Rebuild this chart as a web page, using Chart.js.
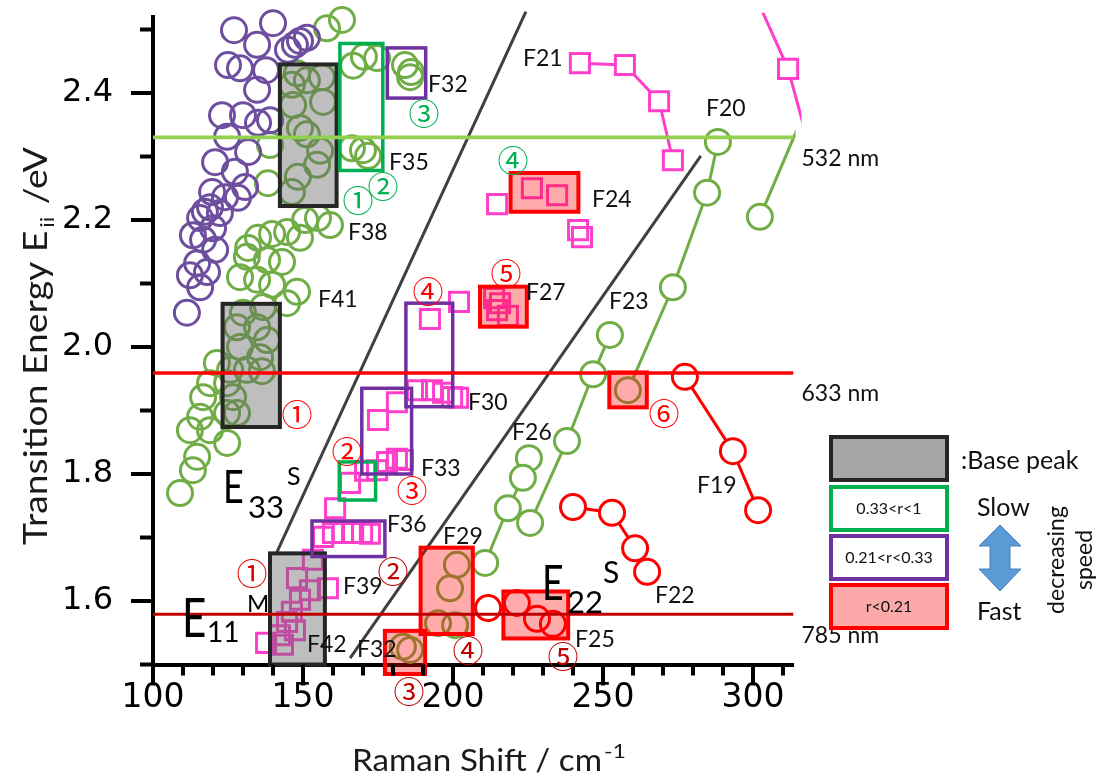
<!DOCTYPE html>
<html lang="en">
<head>
<meta charset="utf-8">
<title>Transition energy vs Raman shift</title>
<script src="https://cdn.jsdelivr.net/npm/chart.js@4.4.1/dist/chart.umd.min.js"></script>
<style>
  html, body { margin: 0; padding: 0; background: #ffffff; }
  #plot { display: block; }
</style>
</head>
<body>
<canvas id="plot" width="1099" height="780"></canvas>
<script>
// ---------- axes ----------
const shiftRange = [100, 313.5];          // Raman shift, cm^-1
const energyRange = [1.5, 2.52];          // transition energy, eV
const shiftTickLabels = [100, 150, 200, 250, 300];
const energyTickLabels = [1.6, 1.8, 2.0, 2.2, 2.4];
const shiftMinorStep = 10;
const energyMinorStep = 0.1;

// ---------- excitation lasers ----------
const laserNames = ['532 nm', '633 nm', '785 nm'];
const laserEnergies = [2.33, 1.959, 1.579];
const laserColors = ['#92D050', '#FF0000', '#C00000'];

// ---------- boundary guides between families ----------
const guideUpper = [[141.3, 1.677], [224.3, 2.528]];
const guideLower = [[165.7, 1.510], [282.6, 2.301]];

// ---------- Kataura points, [shift, energy] ----------
const purpleCircles = [
  [127.0,2.499],[140.0,2.510],[134.7,2.476],[145.0,2.468],[147.3,2.476],[149.0,2.482],[151.3,2.487],
  [125.0,2.444],[129.0,2.439],[137.7,2.436],[134.7,2.405],[123.0,2.365],[130.0,2.365],[135.0,2.353],
  [139.0,2.357],[124.7,2.331],[131.7,2.307],[120.7,2.291],[127.3,2.276],[130.7,2.252],[119.7,2.244],
  [124.0,2.236],[128.3,2.235],[117.3,2.213],[119.0,2.220],[122.3,2.211],[115.7,2.203],[120.0,2.187],
  [113.3,2.176],[116.7,2.169],[120.7,2.153],[114.7,2.132],[118.0,2.118],[112.3,2.113],[115.7,2.094],
  [111.3,2.054]
];
const f38GreenCircles = [
  [163.0,2.515],[158.0,2.502],[148.0,2.431],[151.3,2.420],[156.3,2.425],[146.3,2.413],[156.7,2.386],
  [146.7,2.381],[149.0,2.345],[151.3,2.335],[155.7,2.309],[154.7,2.287],[148.3,2.268],[146.3,2.244],
  [139.0,2.318],[138.3,2.258],[159.0,2.192],[155.0,2.203],[150.7,2.200],[149.0,2.172],[144.7,2.181],
  [139.7,2.178],[135.0,2.172],[131.7,2.156]
];
const f35GreenCircles = [
  [166.7,2.443],[170.3,2.457],[174.7,2.455],[166.3,2.313],[170.0,2.310],[171.7,2.301]
];
const f41GreenCircles = [
  [131.3,2.142],[138.0,2.137],[143.0,2.134],[129.0,2.110],[134.7,2.106],[139.7,2.098],[148.0,2.087],
  [144.7,2.069],[136.7,2.063],[130.0,2.054],[128.0,2.031],[134.7,2.031],[138.0,2.011],[129.0,2.000],
  [135.7,1.984],[121.3,1.975],[125.7,1.964],[131.3,1.964],[136.3,1.962],[119.0,1.943],[124.7,1.943],
  [126.7,1.921],[116.7,1.921],[115.7,1.890],[124.7,1.896],[128.0,1.896],[119.0,1.869],[112.3,1.869],
  [114.7,1.827],[124.7,1.849],[113.3,1.806],[109.0,1.770]
];
const f32GreenCircles = [[184.0,2.444],[186.0,2.433],[185.7,2.425]];
const f32LowGreenCircles = [[183.3,1.528],[185.7,1.523]];
const f29GreenCircles = [[201.3,1.657],[199.0,1.620],[195.0,1.565],[200.7,1.562]];
const f20Circles = [[288.3,2.323],[284.7,2.243],[273.3,2.094],[258.3,1.932]];
const edgeGreenCircles = [[302.3,2.205],[319.0,2.390]];
const f23Circles = [[252.3,2.019],[246.7,1.957],[238.0,1.852],[225.7,1.723]];
const f26Circles = [[225.3,1.825],[223.3,1.794],[218.3,1.746],[210.7,1.660]];
const f19Circles = [[277.3,1.953],[293.3,1.836],[301.7,1.743]];
const f22Circles = [[240.0,1.748],[253.0,1.739],[260.7,1.683],[264.7,1.646]];
const f25Circles = [[211.7,1.589],[221.3,1.597],[228.0,1.572],[233.3,1.564]];

const f21Squares = [[242.3,2.447],[257.3,2.444],[268.7,2.387],[273.3,2.294]];
const edgeSquares = [[300.7,2.554],[311.7,2.438],[320.7,2.282]];
const f24Squares = [[214.7,2.225],[226.3,2.250],[234.7,2.239],[241.7,2.184],[243.0,2.173]];
const f27Squares = [[202.0,2.071],[213.7,2.077],[215.7,2.069],[214.7,2.058],[218.3,2.049]];
const f30Squares = [[192.3,2.044],[188.0,1.932],[193.0,1.932],[196.7,1.928],[199.7,1.921],[201.7,1.920]];
const f33Squares = [[175.0,1.885],[181.3,1.913],[165.7,1.786],[170.7,1.805],[174.7,1.806],[178.0,1.819],[181.3,1.824],[183.3,1.822]];
const f36Squares = [[160.7,1.746],[156.7,1.701],[160.0,1.707],[163.3,1.707],[166.7,1.707],[169.7,1.707],[172.3,1.706]];
const f39Squares = [[153.3,1.665],[148.0,1.636],[152.3,1.617],[158.3,1.620],[149.0,1.602],[146.3,1.583],
  [144.7,1.567],[142.3,1.546],[147.3,1.554],[137.7,1.534],[143.3,1.531]];

// ---------- highlighted peaks, [shiftMin, shiftMax, energyMin, energyMax] ----------
const basePeakBoxes = [[142.3,161.2,2.222,2.445],[123.2,142.3,1.874,2.068],[139.0,157.3,1.500,1.675]];
const slowBoxes = [[162.3,176.6,2.278,2.478],[162.1,174.2,1.759,1.819]];
const mediumBoxes = [[178.1,190.9,2.392,2.471],[184.3,199.9,1.906,2.069],[169.6,186.2,1.800,1.935],[153.0,177.3,1.670,1.726]];
const fastBoxes = [[219.2,241.8,2.213,2.274],[209.0,224.6,2.032,2.095],[189.2,206.6,1.548,1.684],
  [177.3,190.7,1.485,1.553],[216.8,238.4,1.541,1.615],[252.1,264.6,1.905,1.960]];

// ---------- family labels, anchored at [shift, energy] ----------
const familyLabels = [
  ['F32',191.7,2.413],['F35',178.7,2.291],['F38',165.0,2.180],['F41',155.0,2.074],['F24',246.3,2.232],
  ['F21',223.3,2.454],['F20',284.3,2.376],['F27',224.3,2.085],['F23',252.0,2.072],['F30',205.0,1.912],
  ['F26',219.7,1.866],['F19',281.3,1.781],['F33',189.3,1.808],['F36',178.0,1.721],['F39',163.3,1.622],
  ['F29',196.7,1.701],['F22',267.3,1.609],['F25',240.7,1.539],['F32',168.0,1.523],['F42',151.3,1.532]
];
const rankLabels = [
  ['③',190.3,2.369,'#00B050'],['②',176.7,2.255,'#00B050'],['①',168.3,2.232,'#00B050'],['④',220.0,2.296,'#00B050'],
  ['①',148.0,1.896,'#FF0000'],['⑤',217.7,2.117,'#FF0000'],['④',191.7,2.090,'#FF0000'],['⑥',270.3,1.898,'#FF0000'],
  ['③',186.3,1.776,'#FF0000'],['②',164.7,1.838,'#FF0000'],
  ['①',133.0,1.646,'#E00000'],['②',180.0,1.649,'#C00000'],['⑤',236.7,1.515,'#C00000'],
  ['④',205.0,1.524,'#C00000'],['③',185.3,1.460,'#C00000']
];
const bandLabels = [
  { sub: '11', sup: 'M', x: 109.7, y: 1.543 },
  { sub: '33', sup: 'S', x: 123.3, y: 1.754 },
  { sub: '22', sup: 'S', x: 229.7, y: 1.602 }
];
const bandStyles = [
  { size: 54, subSize: 28, subDx: 25, subDy: 5,  supSize: 24, supDx: 65, supDy: -25 },
  { size: 46, subSize: 31, subDx: 25, subDy: 15, supSize: 25, supDx: 64, supDy: -18 },
  { size: 48, subSize: 31, subDx: 25, subDy: 13, supSize: 30, supDx: 61, supDy: -17 }
];

// ---------- colours ----------
const C = {
  green: '#70AD47', purple: '#6E4E9E', red: '#FF0000', pink: '#FF3FCC',
  boxGreen: '#00B050', boxPurple: '#7030A0', boxRed: '#FF0000', boxGray: '#262626'
};
const SANS = 'Lato, "Open Sans", sans-serif';
const CIRC = '"Noto Sans CJK JP", "DejaVu Sans", sans-serif';

const toXY = arr => arr.map(([x, y]) => ({ x, y }));

// markers may spill a little past the frame, as in the printed figure
const looseClip = { left: 20, top: 20, right: 0, bottom: 20 };

function marks(data, color, style, opts) {
  return Object.assign({
    data: toXY(data),
    pointStyle: style,
    pointRadius: style === 'circle' ? 12.5 : 13.5,
    pointHoverRadius: style === 'circle' ? 12.5 : 13.5,
    pointBorderWidth: 3,
    pointBorderColor: color,
    pointBackgroundColor: 'rgba(0,0,0,0)',
    borderColor: color,
    borderWidth: 3,
    showLine: false,
    clip: looseClip,
    order: 2
  }, opts || {});
}
const chain = { showLine: true, pointBackgroundColor: '#ffffff' };

const datasets = [
  Object.assign(marks(guideUpper, '#404040', 'circle'), { showLine: true, pointRadius: 0, clip: false, order: 3 }),
  Object.assign(marks(guideLower, '#404040', 'circle'), { showLine: true, pointRadius: 0, clip: false, order: 3 }),
  marks(purpleCircles, C.purple, 'circle'),
  marks(f38GreenCircles, C.green, 'circle'),
  marks(f35GreenCircles, C.green, 'circle'),
  marks(f41GreenCircles, C.green, 'circle'),
  marks(f32GreenCircles, C.green, 'circle'),
  marks(f32LowGreenCircles, C.green, 'circle'),
  marks(f29GreenCircles, C.green, 'circle'),
  marks(f20Circles, C.green, 'circle', chain),
  marks(edgeGreenCircles, C.green, 'circle', Object.assign({}, chain, { clip: { left: 0, top: 0, right: 2, bottom: 0 } })),
  marks(f23Circles, C.green, 'circle', chain),
  marks(f26Circles, C.green, 'circle', chain),
  marks(f19Circles, C.red, 'circle', chain),
  marks(f22Circles, C.red, 'circle', chain),
  marks(f25Circles, C.red, 'circle'),
  marks(f21Squares, C.pink, 'rect', chain),
  marks(edgeSquares, C.pink, 'rect', Object.assign({}, chain, { clip: { left: 0, top: 4, right: 8, bottom: 0 } })),
  marks(f24Squares, C.pink, 'rect'),
  marks(f27Squares, C.pink, 'rect'),
  marks(f30Squares, C.pink, 'rect'),
  marks(f33Squares, C.pink, 'rect'),
  marks(f36Squares, C.pink, 'rect'),
  marks(f39Squares, C.pink, 'rect')
];
const laserWidths = [3.8, 3.5, 3];
laserEnergies.forEach((e, i) => {
  datasets.push({
    data: [{ x: shiftRange[0], y: e }, { x: shiftRange[1], y: e }],
    borderColor: laserColors[i], borderWidth: laserWidths[i],
    pointRadius: 0, showLine: true, order: 0, laser: true
  });
});

// ---------- drawing helpers ----------
function drawBoxes(chart) {
  const ctx = chart.ctx, X = v => chart.scales.x.getPixelForValue(v), Y = v => chart.scales.y.getPixelForValue(v);
  const box = (b, stroke, fill, lw) => {
    const x1 = X(b[0]), x2 = X(b[1]), y1 = Y(b[3]), y2 = Y(b[2]);
    if (fill) { ctx.fillStyle = fill; ctx.fillRect(x1, y1, x2 - x1, y2 - y1); }
    ctx.lineWidth = lw; ctx.strokeStyle = stroke; ctx.strokeRect(x1, y1, x2 - x1, y2 - y1);
  };
  ctx.save();
  basePeakBoxes.forEach(b => box(b, C.boxGray, 'rgba(100,100,100,0.42)', 4));
  slowBoxes.forEach(b => box(b, C.boxGreen, null, 3.5));
  mediumBoxes.forEach(b => box(b, C.boxPurple, null, 3.5));
  fastBoxes.forEach(b => box(b, C.boxRed, 'rgba(255,0,0,0.33)', 4));
  ctx.restore();
}

function drawTicks(chart) {
  const ctx = chart.ctx, xs = chart.scales.x, ys = chart.scales.y, a = chart.chartArea;
  ctx.save();
  ctx.strokeStyle = '#000'; ctx.lineWidth = 4; ctx.lineCap = 'butt';
  for (let v = shiftRange[0]; v <= shiftRange[1] + 1e-6; v += shiftMinorStep) {
    const x = xs.getPixelForValue(v), len = shiftTickLabels.includes(v) ? 21 : 11;
    ctx.beginPath(); ctx.moveTo(x, a.bottom); ctx.lineTo(x, a.bottom + len); ctx.stroke();
  }
  for (let k = 0; ; k++) {
    const v = +(energyRange[0] + k * energyMinorStep).toFixed(2);
    if (v > energyRange[1] + 1e-6) break;
    const y = ys.getPixelForValue(v), len = energyTickLabels.some(t => Math.abs(t - v) < 1e-6) ? 22 : 13;
    ctx.beginPath(); ctx.moveTo(a.left - len, y); ctx.lineTo(a.left, y); ctx.stroke();
  }
  ctx.restore();
}

function squeezeText(ctx, str, x, y, targetW) {
  const w = ctx.measureText(str).width;
  const s = targetW ? targetW / w : 1;
  ctx.save(); ctx.translate(x, y); ctx.scale(s, 1); ctx.fillText(str, 0, 0); ctx.restore();
  return w * s;
}

function drawLabels(chart) {
  const ctx = chart.ctx, X = v => chart.scales.x.getPixelForValue(v), Y = v => chart.scales.y.getPixelForValue(v);
  const a = chart.chartArea;
  ctx.save();
  // family names
  ctx.fillStyle = '#111'; ctx.font = '23px ' + SANS; ctx.textAlign = 'left'; ctx.textBaseline = 'middle';
  familyLabels.forEach(([t, x, y]) => ctx.fillText(t, X(x), Y(y)));
  // rank numbers
  ctx.font = '31px ' + CIRC; ctx.textAlign = 'center';
  rankLabels.forEach(([t, x, y, c]) => { ctx.fillStyle = c; ctx.fillText(t, X(x), Y(y) + 1); });
  // band labels E_ii^(S/M)
  ctx.fillStyle = '#000'; ctx.textAlign = 'left'; ctx.textBaseline = 'alphabetic';
  bandLabels.forEach((b, i) => {
    const s = bandStyles[i], x0 = X(b.x), y0 = Y(b.y);
    ctx.font = s.size + 'px ' + SANS;
    ctx.save(); ctx.translate(x0, y0); ctx.scale(0.78, 1); ctx.fillText('E', 0, 0); ctx.restore();
    ctx.font = s.subSize + 'px ' + SANS; ctx.fillText(b.sub, x0 + s.subDx, y0 + s.subDy);
    ctx.font = s.supSize + 'px ' + SANS; ctx.fillText(b.sup, x0 + s.supDx, y0 + s.supDy);
  });
  // laser wavelengths
  ctx.font = '23px ' + SANS; ctx.fillStyle = '#111'; ctx.textBaseline = 'middle';
  laserNames.forEach((n, i) => ctx.fillText(n, a.right + 8, Y(laserEnergies[i]) + 21));

  // axis titles
  ctx.fillStyle = '#1a1a1a'; ctx.textBaseline = 'alphabetic';
  ctx.font = '31px ' + SANS;
  let xx = 352;
  xx += squeezeText(ctx, 'Raman Shift / cm', xx, 771, 250);
  ctx.font = '20px ' + SANS;
  squeezeText(ctx, '-1', xx + 2, 758, 22);

  ctx.save();
  ctx.translate(47, 346); ctx.rotate(-Math.PI / 2);
  const p1 = 'Transition Energy E', p2 = 'ii', p3 = ' /eV';
  ctx.font = '33px ' + SANS; const m1 = ctx.measureText(p1).width;
  ctx.font = '20px ' + SANS; const m2 = ctx.measureText(p2).width;
  ctx.font = '33px ' + SANS; const m3 = ctx.measureText(p3).width;
  const total = 398, sq = (total - 6) / (m1 + m2 + m3);
  let tx = -total / 2;
  ctx.font = '33px ' + SANS; squeezeText(ctx, p1, tx, 0, m1 * sq); tx += m1 * sq + 3;
  ctx.font = '20px ' + SANS; squeezeText(ctx, p2, tx, 7, m2 * sq); tx += m2 * sq + 3;
  ctx.font = '33px ' + SANS; squeezeText(ctx, p3, tx, 0, m3 * sq);
  ctx.restore();
  ctx.restore();
}

function drawKey(chart) {
  const ctx = chart.ctx;
  ctx.save();
  const rows = [
    { y: 437, stroke: '#262626', fill: '#A6A6A6', text: '' },
    { y: 487, stroke: C.boxGreen, fill: '#ffffff', text: '0.33<r<1' },
    { y: 536, stroke: C.boxPurple, fill: '#ffffff', text: '0.21<r<0.33' },
    { y: 585, stroke: C.boxRed, fill: '#FBA9A9', text: 'r<0.21' }
  ];
  rows.forEach(r => {
    ctx.fillStyle = r.fill; ctx.fillRect(831, r.y, 116, 43);
    ctx.lineWidth = 4; ctx.strokeStyle = r.stroke; ctx.strokeRect(831, r.y, 116, 43);
    if (r.text) {
      ctx.fillStyle = '#111'; ctx.font = '16px ' + SANS; ctx.textAlign = 'center'; ctx.textBaseline = 'middle';
      ctx.fillText(r.text, 889, r.y + 22);
    }
  });
  ctx.fillStyle = '#111'; ctx.textAlign = 'left'; ctx.textBaseline = 'middle';
  ctx.font = '25px ' + SANS;
  ctx.fillText(':Base peak', 961, 461);
  ctx.fillText('Slow', 977, 508);
  ctx.fillText('Fast', 977, 612);
  // double-headed arrow
  ctx.beginPath();
  ctx.moveTo(1000, 525); ctx.lineTo(1021, 546); ctx.lineTo(1010, 546); ctx.lineTo(1010, 569);
  ctx.lineTo(1021, 569); ctx.lineTo(1000, 591); ctx.lineTo(979, 569); ctx.lineTo(990, 569);
  ctx.lineTo(990, 546); ctx.lineTo(979, 546); ctx.closePath();
  ctx.fillStyle = '#5B9BD5'; ctx.fill(); ctx.lineWidth = 1; ctx.strokeStyle = '#4A7EBB'; ctx.stroke();
  // rotated caption
  ctx.font = '23px ' + SANS; ctx.textAlign = 'center'; ctx.fillStyle = '#111';
  [['decreasing', 1057], ['speed', 1085]].forEach(([t, x]) => {
    ctx.save(); ctx.translate(x, 560); ctx.rotate(-Math.PI / 2); ctx.fillText(t, 0, 0); ctx.restore();
  });
  ctx.restore();
}

const overlay = {
  id: 'overlay',
  beforeDatasetsDraw(chart) { chart.$boxesDone = false; },
  beforeDatasetDraw(chart, args) {
    if (!chart.$boxesDone && chart.data.datasets[args.index].laser) { drawBoxes(chart); chart.$boxesDone = true; }
  },
  afterDatasetsDraw(chart) { if (!chart.$boxesDone) { drawBoxes(chart); chart.$boxesDone = true; } },
  afterDraw(chart) { drawTicks(chart); drawLabels(chart); drawKey(chart); }
};

new Chart(document.getElementById('plot'), {
  type: 'scatter',
  data: { datasets },
  plugins: [overlay],
  options: {
    responsive: false, animation: false, devicePixelRatio: 1,
    events: [],
    layout: { padding: { left: 0, top: 16.8, right: 1099 - 793.5, bottom: 0 } },
    plugins: { legend: { display: false }, tooltip: { enabled: false } },
    scales: {
      x: {
        type: 'linear', min: shiftRange[0], max: shiftRange[1],
        afterFit: s => { s.height = 115.5; s.paddingLeft = 0; s.paddingRight = 0; },
        afterBuildTicks: s => { s.ticks = shiftTickLabels.map(v => ({ value: v })); },
        grid: { display: false, drawTicks: false },
        border: { display: true, width: 4, color: '#000' },
        ticks: { autoSkip: false, maxRotation: 0, padding: 14, color: '#000',
                 font: { family: '"DejaVu Sans"', size: 33 }, callback: v => String(v) }
      },
      y: {
        type: 'linear', min: energyRange[0], max: energyRange[1],
        afterFit: s => { s.width = 153; s.paddingTop = 0; s.paddingBottom = 0; },
        afterBuildTicks: s => { s.ticks = energyTickLabels.map(v => ({ value: v })); },
        grid: { display: false, drawTicks: false },
        border: { display: true, width: 4, color: '#000' },
        ticks: { autoSkip: false, padding: 40, color: '#000',
                 font: { family: '"DejaVu Sans"', size: 32 }, callback: v => Number(v).toFixed(1) }
      }
    }
  }
});
</script>
</body>
</html>
